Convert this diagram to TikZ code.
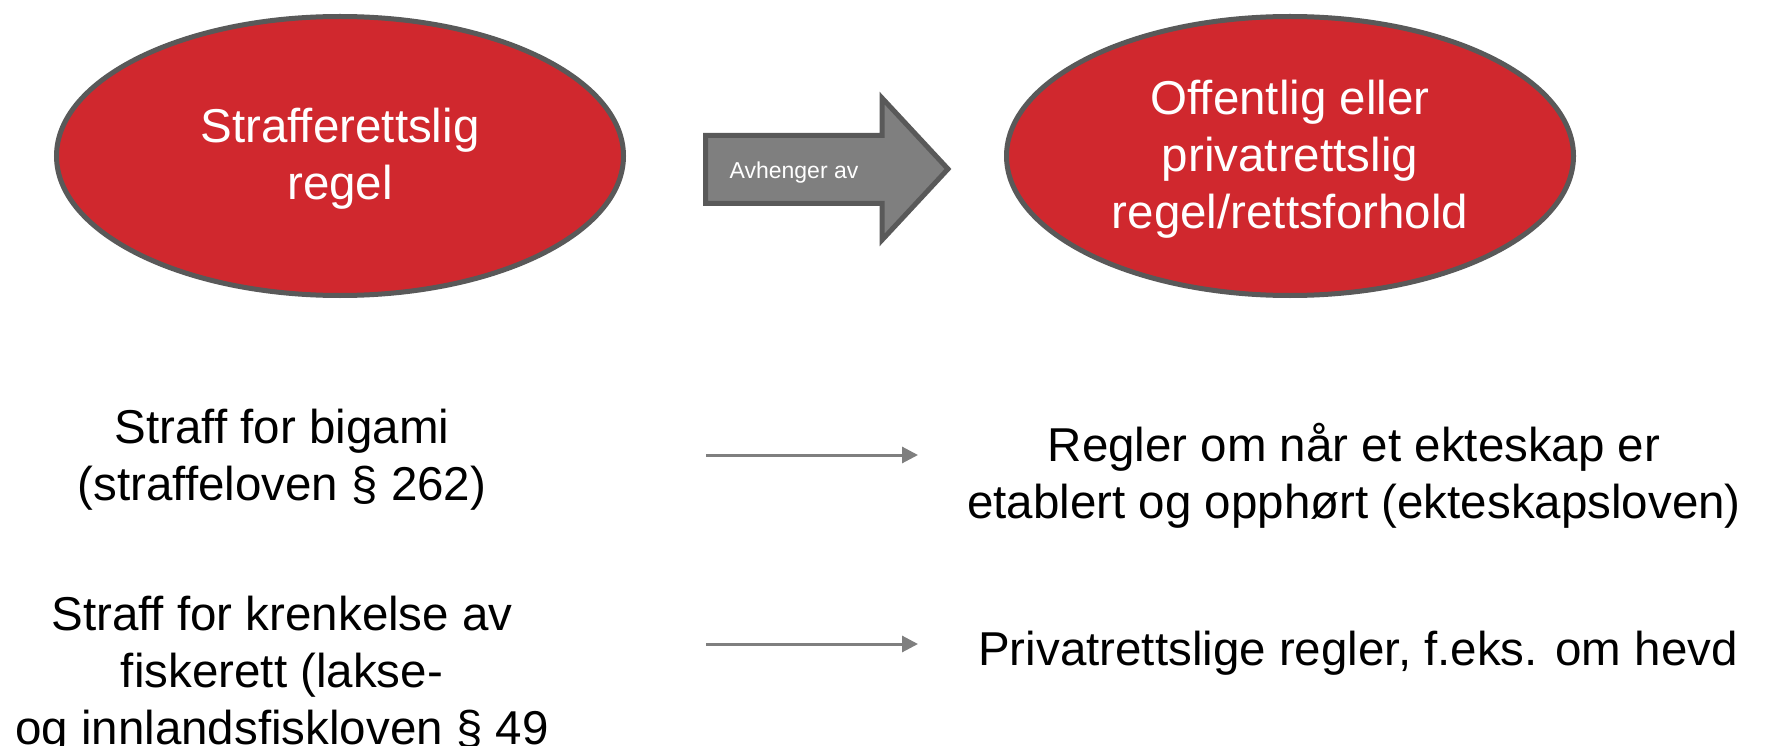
\documentclass[tikz,border=0pt]{standalone}
\usepackage{fontspec}
\setmainfont{Liberation Sans}
\usetikzlibrary{shapes.geometric,arrows.meta}
\definecolor{redfill}{RGB}{208,40,46}
\definecolor{darkline}{RGB}{89,89,89}
\definecolor{arrowgray}{RGB}{127,127,127}
\tikzset{
  oval/.style={ellipse,draw=darkline,line width=5pt,fill=redfill,
    minimum width=567pt,minimum height=279pt,inner sep=0pt},
  ovaltext/.style={text=white,align=center,inner sep=0pt,
    font=\fontsize{47.5}{57}\selectfont},
  plain/.style={align=center,inner sep=0pt,font=\fontsize{47.5}{57}\selectfont},
  thinarrow/.style={draw=arrowgray,line width=3pt,-{Triangle[length=16pt,width=16pt]}},
  blockarrow/.style={draw=darkline,line width=5pt,fill=arrowgray,line join=miter},
}
\begin{document}
\begin{tikzpicture}[x=1pt,y=-1pt]
\useasboundingbox (0,0) rectangle (1766,746);
\node[oval,label={[ovaltext,yshift=-3pt]center:{Strafferettslig\\regel}}] (straff) at (340,156) {};
\node[oval,label={[ovaltext,yshift=-3pt]center:{Offentlig eller\\privatrettslig\\regel/rettsforhold}}] (offentlig) at (1290,156) {};
\draw[blockarrow] (705.5,135.5) -- (882,135.5) -- (882,98) -- (948,169) -- (882,240) -- (882,203.5) -- (705.5,203.5) -- cycle;
\node[text=white,inner sep=0pt,font=\fontsize{23}{27}\selectfont] (avh) at (794,173) {Avhenger av};
\node[plain] (bigami) at (282,460) {Straff for bigami\\(straffeloven § 262)};
\node[plain] (fiske) at (282,675) {Straff for krenkelse av\\fiskerett (lakse-\\og innlandsfiskloven § 49};
\node[plain] (ekteskap) at (1354,476) {Regler om når et ekteskap er\\etablert og opphørt (ekteskapsloven)};
\node[plain] (hevd) at (1358,653) {Privatrettslige regler, f.eks. om hevd};
\coordinate (a1s) at (706,455);
\coordinate (a1e) at (918,455);
\coordinate (a2s) at (706,644);
\coordinate (a2e) at (918,644);
\draw[thinarrow] (a1s) -- (a1e);
\draw[thinarrow] (a2s) -- (a2e);
\end{tikzpicture}
\end{document}
